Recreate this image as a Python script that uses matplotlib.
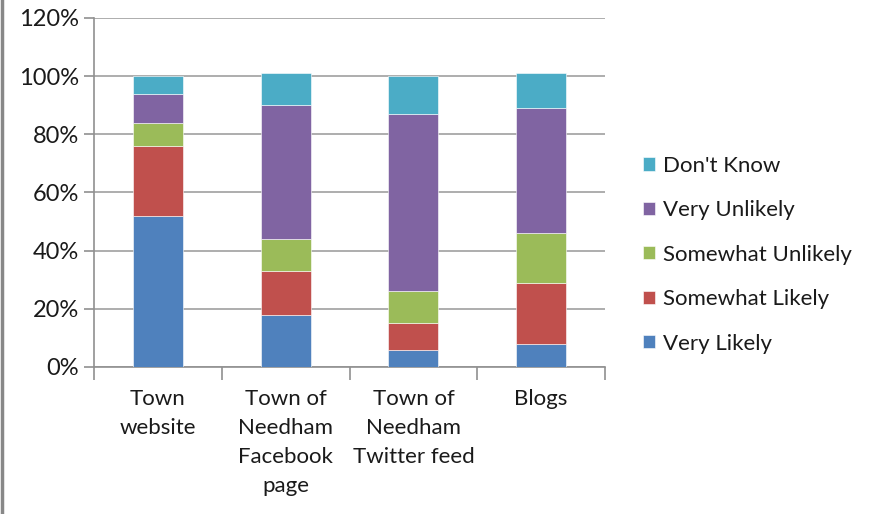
import numpy as np
import matplotlib.pyplot as plt
from matplotlib.lines import Line2D
from matplotlib.ticker import PercentFormatter

plt.rcParams['font.family'] = ['Lato', 'DejaVu Sans']

categories = ['Town\nwebsite', 'Town of\nNeedham\nFacebook\npage',
              'Town of\nNeedham\nTwitter feed', 'Blogs']
series = ['Very Likely', 'Somewhat Likely', 'Somewhat Unlikely',
          'Very Unlikely', "Don't Know"]
very_likely = [52, 18, 6, 8]
somewhat_likely = [24, 15, 9, 21]
somewhat_unlikely = [8, 11, 11, 17]
very_unlikely = [10, 46, 61, 43]
dont_know = [6, 11, 13, 12]
colors = ['#4F81BD', '#C0504D', '#9BBB59', '#8064A2', '#4BACC6']

values = [very_likely, somewhat_likely, somewhat_unlikely, very_unlikely, dont_know]

fig = plt.figure(figsize=(8.74, 5.14), dpi=100)
ax = fig.add_axes([0.1076, 0.286, 0.5846, 0.679])

x = np.arange(len(categories))
bottom = np.zeros(len(categories))
for name, vals, c in zip(series, values, colors):
    ax.bar(x, vals, 0.39, bottom=bottom, color=c, label=name,
           edgecolor='white', linewidth=0.4, zorder=3)
    bottom += np.array(vals)

ax.set_xlim(-0.5, len(categories) - 0.5)
ax.set_ylim(0, 120)
ax.set_yticks(np.arange(0, 121, 20))
ax.yaxis.set_major_formatter(PercentFormatter(decimals=0))
ax.grid(axis='y', color='#A0A0A0', linewidth=1.2, zorder=0)

ax.set_xticks(x)
ax.set_xticklabels(categories, fontsize=16, color='#1a1a1a', linespacing=1.55)
ax.set_xticks(np.arange(-0.5, len(categories)), minor=True)
ax.tick_params(axis='x', which='major', length=0, pad=16)
ax.tick_params(axis='x', which='minor', length=9, width=1.2, color='#909090')
ax.tick_params(axis='y', length=7, width=1.2, color='#909090', labelsize=17,
               labelcolor='#1a1a1a', pad=4)

for s in ['top', 'right']:
    ax.spines[s].set_visible(False)
for s in ['left', 'bottom']:
    ax.spines[s].set_color('#909090')
    ax.spines[s].set_linewidth(1.2)

handles, labels = ax.get_legend_handles_labels()
ax.legend(handles[::-1], labels[::-1], loc='center left',
          bbox_to_anchor=(1.035, 0.322), frameon=False, fontsize=16,
          handlelength=0.55, handleheight=0.55, handletextpad=0.35,
          labelspacing=1.1, labelcolor='#1a1a1a')

fig.add_artist(Line2D([0.002, 0.002], [0, 1], color='#888888', linewidth=2.5))

fig.savefig('out.png', dpi=100)
